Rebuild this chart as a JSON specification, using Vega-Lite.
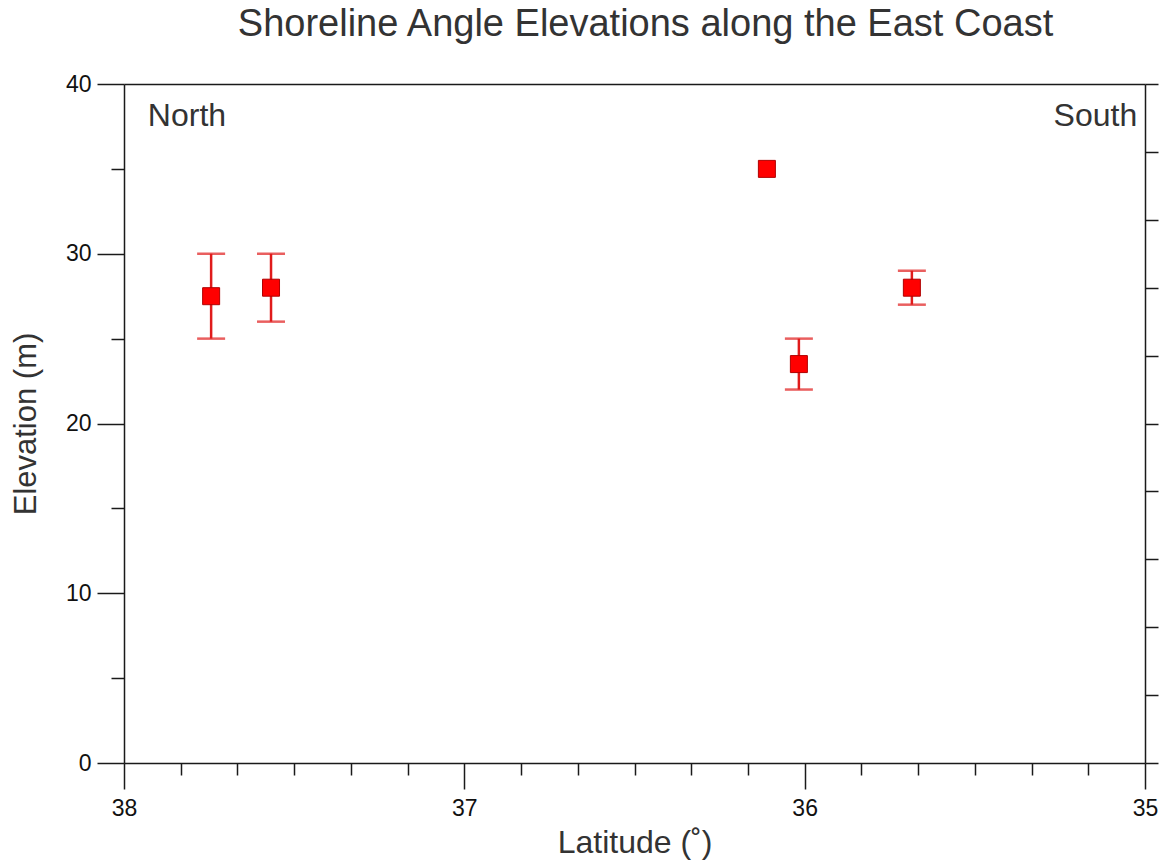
{
  "$schema": "https://vega.github.io/schema/vega-lite/v6.json",
  "autosize": {"type": "none"},
  "width": 1021,
  "height": 679,
  "padding": {"left": 124, "top": 84, "right": 15, "bottom": 102},
  "background": "white",
  "title": {
    "text": "Shoreline Angle Elevations along the East Coast",
    "font": "Liberation Sans",
    "fontSize": 38,
    "fontWeight": "normal",
    "color": "#333333",
    "anchor": "middle",
    "dx": 11,
    "offset": 29
  },
  "config": {
    "view": {"stroke": null},
    "axis": {
      "grid": false,
      "domainColor": "#1a1a1a",
      "domainWidth": 1.5,
      "tickColor": "#1a1a1a",
      "tickWidth": 1.5
    }
  },
  "data": {
    "values": [
      {"lat": 37.744, "elev": 27.5, "lo": 25, "hi": 30},
      {"lat": 37.568, "elev": 28, "lo": 26, "hi": 30},
      {"lat": 36.111, "elev": 35, "lo": null, "hi": null},
      {"lat": 36.017, "elev": 23.5, "lo": 22, "hi": 25},
      {"lat": 35.685, "elev": 28, "lo": 27, "hi": 29}
    ]
  },
  "resolve": {"axis": {"x": "independent", "y": "independent"}},
  "layer": [
    {
      "transform": [{"filter": "datum.lo != null"}],
      "mark": {"type": "rule", "color": "#e01b1b", "strokeWidth": 2.5},
      "encoding": {
        "x": {
          "field": "lat", "type": "quantitative",
          "scale": {"domain": [35, 38], "reverse": true, "nice": false, "zero": false},
          "axis": {
            "orient": "bottom", "values": [38, 37, 36, 35], "tickSize": 26,
            "labelPadding": 8, "labelFont": "Liberation Sans", "labelFontSize": 23, "labelColor": "#111111",
            "title": "Latitude (˚)", "titlePadding": 7, "titleFont": "Liberation Sans", "titleFontSize": 32,
            "titleFontWeight": "normal", "titleColor": "#333333",
            "format": "d", "labelFlush": false
          }
        },
        "y": {
          "field": "lo", "type": "quantitative",
          "scale": {"domain": [0, 40], "nice": false, "zero": true},
          "axis": {
            "orient": "left", "values": [0, 10, 20, 30, 40], "tickSize": 27,
            "labelPadding": 6, "labelFont": "Liberation Sans", "labelFontSize": 23, "labelColor": "#111111",
            "title": "Elevation (m)", "titlePadding": 23, "titleFont": "Liberation Sans", "titleFontSize": 31,
            "titleFontWeight": "normal", "titleColor": "#333333",
            "labelFlush": false
          }
        },
        "y2": {"field": "hi"}
      }
    },
    {
      "transform": [{"filter": "datum.hi != null"}],
      "mark": {"type": "tick", "orient": "horizontal", "color": "#e01b1b", "size": 28, "thickness": 2.5},
      "encoding": {
        "x": {
          "field": "lat", "type": "quantitative",
          "axis": {
            "orient": "bottom", "labels": false, "domain": false, "title": null, "tickSize": 12,
            "values": [37.8333, 37.6667, 37.5, 37.3333, 37.1667, 36.8333, 36.6667, 36.5, 36.3333, 36.1667, 35.8333, 35.6667, 35.5, 35.3333, 35.1667]
          }
        },
        "y": {
          "field": "hi", "type": "quantitative",
          "axis": {
            "orient": "left", "labels": false, "domain": false, "title": null, "tickSize": 13,
            "values": [5, 15, 25, 35]
          }
        }
      }
    },
    {
      "transform": [{"filter": "datum.lo != null"}],
      "mark": {"type": "tick", "orient": "horizontal", "color": "#e01b1b", "size": 28, "thickness": 2.5},
      "encoding": {
        "x": {
          "field": "lat", "type": "quantitative",
          "axis": {"orient": "top", "labels": false, "ticks": false, "title": null}
        },
        "y": {
          "field": "lo", "type": "quantitative",
          "axis": {
            "orient": "right", "labels": false, "title": null, "tickSize": 13,
            "values": [0, 4, 8, 12, 16, 20, 24, 28, 32, 36, 40]
          }
        }
      }
    },
    {
      "mark": {"type": "point", "shape": "square", "filled": true, "size": 289, "color": "#ff0000", "stroke": "#b00000", "strokeWidth": 1, "opacity": 1},
      "encoding": {
        "x": {"field": "lat", "type": "quantitative", "axis": null},
        "y": {"field": "elev", "type": "quantitative", "axis": null}
      }
    },
    {
      "data": {"values": [{"label": "North"}]},
      "mark": {"type": "text", "align": "left", "baseline": "alphabetic", "font": "Liberation Sans", "fontSize": 32, "color": "#333333"},
      "encoding": {
        "text": {"field": "label"},
        "x": {"datum": 37.93, "type": "quantitative", "axis": null},
        "y": {"datum": 37.53, "type": "quantitative", "axis": null}
      }
    },
    {
      "data": {"values": [{"label": "South"}]},
      "mark": {"type": "text", "align": "right", "baseline": "alphabetic", "font": "Liberation Sans", "fontSize": 32, "color": "#333333"},
      "encoding": {
        "text": {"field": "label"},
        "x": {"datum": 35.023, "type": "quantitative", "axis": null},
        "y": {"datum": 37.53, "type": "quantitative", "axis": null}
      }
    }
  ]
}
